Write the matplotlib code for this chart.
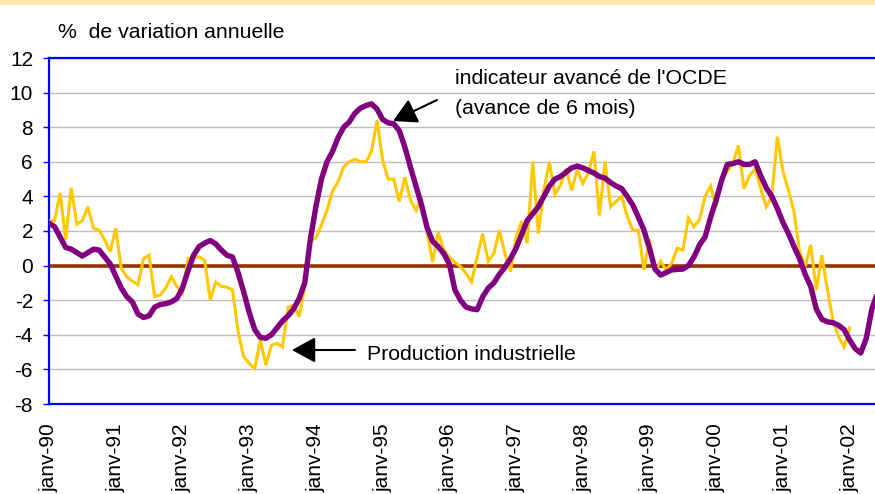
import matplotlib
matplotlib.use("Agg")
import matplotlib.pyplot as plt
from matplotlib.patches import Rectangle

plt.rcParams['font.family'] = ['Liberation Sans', 'DejaVu Sans']
plt.rcParams['axes.unicode_minus'] = False

# x tick labels (one per January, 1990-2002)
tick_labels = ["janv-90", "janv-91", "janv-92", "janv-93", "janv-94", "janv-95",
               "janv-96", "janv-97", "janv-98", "janv-99", "janv-00", "janv-01",
               "janv-02"]

# Production industrielle (% yoy), monthly from janv-90
production = [2.6, 2.6, 4.2, 1.5, 4.5, 2.4, 2.6, 3.4, 2.15, 2.05, 1.5, 0.8,
              2.15, -0.15, -0.65, -0.9, -1.1, 0.4, 0.6, -1.8, -1.7, -1.3, -0.65, -1.2,
              -1.6, 0.4, 0.5, 0.5, 0.3, -2.0, -0.95, -1.2, -1.25, -1.4, -3.8, -5.25,
              -5.65, -5.95, -4.3, -5.75, -4.6, -4.5, -4.7, -2.4, -2.3, -2.95, -1.2, 1.4,
              1.6, 2.35, 3.2, 4.3, 4.85, 5.7, 6.0, 6.15, 6.0, 6.0, 6.6, 8.4,
              6.1, 5.0, 5.0, 3.7, 5.1, 3.8, 3.2, 3.9, 1.9, 0.2, 1.95, 0.9,
              0.5, 0.2, -0.05, -0.45, -0.95, 0.5, 1.85, 0.25, 0.7, 2.05, 0.7, -0.35,
              1.65, 2.55, 1.3, 6.0, 1.85, 4.35, 6.0, 4.1, 4.65, 5.6, 4.35, 5.55,
              4.75, 5.35, 6.6, 2.9, 6.0, 3.4, 3.7, 4.0, 2.85, 2.05, 2.05, -0.25,
              1.5, -0.35, 0.25, -0.25, 0.15, 1.0, 0.9, 2.75, 2.25, 2.65, 4.0, 4.6,
              3.4, 5.05, 5.45, 5.9, 6.95, 4.45, 5.2, 5.6, 4.45, 3.4, 4.0, 7.45,
              5.45, 4.35, 3.1, 0.8, -0.05, 1.2, -1.4, 0.6, -1.4, -3.15, -4.1, -4.7,
              -3.6]

# Indicateur avance de l'OCDE (avance de 6 mois), monthly from janv-90
indicateur = [2.45, 2.25, 1.65, 1.05, 0.95, 0.75, 0.55, 0.75, 0.95, 0.9, 0.5, 0.1,
              -0.6, -1.3, -1.8, -2.1, -2.8, -3.0, -2.9, -2.4, -2.25, -2.2, -2.1, -1.9,
              -1.3, -0.3, 0.6, 1.1, 1.3, 1.45, 1.25, 0.9, 0.6, 0.5, -0.4, -1.5,
              -2.7, -3.7, -4.15, -4.2, -4.0, -3.6, -3.2, -2.9, -2.5, -1.9, -1.0, 1.5,
              3.4, 5.0, 6.0, 6.6, 7.4, 8.0, 8.3, 8.8, 9.1, 9.25, 9.35, 9.05,
              8.45, 8.25, 8.2, 7.8, 6.85, 5.7, 4.6, 3.5, 2.2, 1.4, 1.1, 0.7,
              0.1, -1.4, -2.0, -2.4, -2.5, -2.55, -1.8, -1.3, -1.0, -0.5, -0.1, 0.4,
              1.0, 1.8, 2.6, 3.0, 3.4, 4.0, 4.6, 5.0, 5.15, 5.4, 5.65, 5.75,
              5.65, 5.5, 5.35, 5.15, 5.05, 4.8, 4.6, 4.45, 4.0, 3.5, 2.8, 2.05,
              1.0, -0.2, -0.55, -0.4, -0.25, -0.22, -0.2, 0.0, 0.5, 1.2, 1.65, 2.8,
              3.8, 4.95, 5.85, 5.9, 6.0, 5.85, 5.85, 6.0, 5.2, 4.5, 4.0, 3.3,
              2.5, 1.85, 1.1, 0.4, -0.5, -1.2, -2.5, -3.1, -3.25, -3.3, -3.45, -3.7,
              -4.3, -4.8, -5.05, -4.2, -2.5, -1.6]

W, H = 875, 494
fig = plt.figure(figsize=(W / 100, H / 100), dpi=100)
fig.patch.set_facecolor("white")

# light yellow band at the very top
fig.patches.append(Rectangle((0, 1 - 5 / H), 1, 5 / H, transform=fig.transFigure,
                             facecolor="#FCE8A6", edgecolor="none", zorder=0))

ax_left, ax_right = 49 / W, 1.0
ax_top, ax_bottom = 58 / H, 404 / H
ax = fig.add_axes([ax_left, 1 - ax_bottom, ax_right - ax_left, ax_bottom - ax_top])

months_p = list(range(len(production)))
months_i = list(range(len(indicateur)))

ax.axhline(0, color="#993300", lw=2.6, zorder=2)
ax.plot(months_p, production, color="#FFC800", lw=2.2, zorder=3, solid_joinstyle="miter")
ax.plot(months_i, indicateur, color="#800080", lw=3.9, zorder=4, solid_joinstyle="round")

ax.set_ylim(-8, 12)
ax.set_yticks(range(-8, 13, 2))
ax.set_xlim(0, (W - 49) / 5.56)
ax.set_xticks([12 * i for i in range(len(tick_labels))])
ax.set_xticklabels(tick_labels, rotation=90, va="top", ha="center")

ax.grid(axis="y", color="#BDBDBD", lw=1.0, zorder=1)
ax.set_axisbelow(True)

for s in ["left", "top", "bottom"]:
    ax.spines[s].set_color("#0000FF")
    ax.spines[s].set_linewidth(1.6)
ax.spines["right"].set_visible(False)

ax.tick_params(axis="y", direction="out", length=4.5, width=1.0, color="#0000FF",
               labelsize=15, pad=7)
ax.tick_params(axis="x", length=0, labelsize=15, pad=14)

def fx(px):
    return px / W

def fy(py):
    return 1 - py / H

FS = 15.3
fig.text(fx(58), fy(32), "%  de variation annuelle", fontsize=FS, va="center", ha="left")

fig.text(fx(455), fy(79), "indicateur avancé de l'OCDE", fontsize=FS, va="center", ha="left")
fig.text(fx(455), fy(108), "(avance de 6 mois)", fontsize=FS, va="center", ha="left")
fig.text(fx(367), fy(354), "Production industrielle", fontsize=FS, va="center", ha="left")

ax.annotate("", xy=(fx(393), fy(121)), xycoords="figure fraction",
            xytext=(fx(437), fy(100)), textcoords="figure fraction",
            arrowprops=dict(arrowstyle="-|>,head_length=0.4,head_width=0.22",
                            mutation_scale=36, color="black", lw=1.5,
                            shrinkA=0, shrinkB=0))
ax.annotate("", xy=(fx(292), fy(350)), xycoords="figure fraction",
            xytext=(fx(355), fy(350)), textcoords="figure fraction",
            arrowprops=dict(arrowstyle="-|>,head_length=0.4,head_width=0.22",
                            mutation_scale=36, color="black", lw=1.5,
                            shrinkA=0, shrinkB=0))

fig.savefig("out.png", dpi=100)
